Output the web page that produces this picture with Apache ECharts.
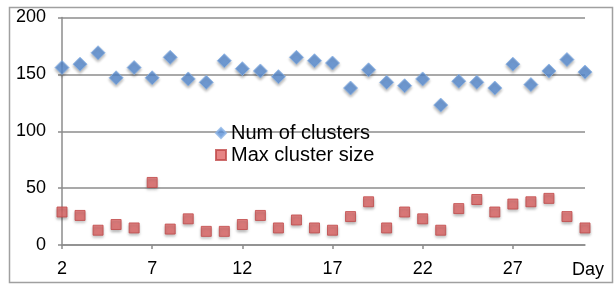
<!DOCTYPE html>
<html>
<head>
<meta charset="utf-8">
<script src="https://cdn.jsdelivr.net/npm/echarts@6/dist/echarts.min.js"></script>
<style>
  html, body { margin: 0; padding: 0; background: #fff; }
  #chart { width: 616px; height: 286px; }
</style>
</head>
<body>
<div id="chart"></div>
<script>
// days 2..31
const days = []
for (let d = 2; d <= 31; d++) days.push(String(d))

const numClusters = [156, 159, 169, 147, 156, 147, 165, 146, 143, 162,
  155, 153, 148, 165, 162, 160, 138, 154, 143, 140,
  146, 123, 144, 143, 138, 159, 141, 153, 163, 152]

const maxClusterSize = [29, 26, 13, 18, 15, 55, 14, 23, 12, 12,
  18, 26, 15, 22, 15, 13, 25, 38, 15, 29,
  23, 13, 32, 40, 29, 36, 38, 41, 25, 15]

const chart = echarts.init(document.getElementById('chart'))
const font = 'Liberation Sans, Arial, sans-serif'
const gray = '#8c8c8c'

chart.setOption({
  animation: false,
  textStyle: { fontFamily: font },
  graphic: [
    {
      type: 'rect',
      shape: { x: 9.5, y: 7.5, width: 603, height: 275 },
      style: { fill: 'none', stroke: '#a0a0a0', lineWidth: 1.5 },
      z: -1
    }
  ],
  grid: { left: 62, right: 31, top: 17.5, bottom: 41 },
  legend: {
    orient: 'vertical',
    left: 210,
    top: 118,
    itemGap: 2,
    itemWidth: 10,
    itemHeight: 10,
    textStyle: { fontSize: 20, color: '#000', fontFamily: font },
    data: [
      { name: 'Num of clusters', icon: 'diamond' },
      { name: 'Max cluster size', icon: 'rect' }
    ]
  },
  xAxis: {
    type: 'category',
    data: days,
    boundaryGap: false,
    name: 'Day',
    nameLocation: 'end',
    nameGap: 3,
    nameTextStyle: {
      fontSize: 18, color: '#000', align: 'center',
      verticalAlign: 'top', padding: [16, 0, 0, 0]
    },
    axisLine: { lineStyle: { color: gray, width: 1.5 } },
    axisTick: { interval: 4, length: 4, lineStyle: { color: gray, width: 1.5 } },
    axisLabel: { interval: 4, fontSize: 18, color: '#000', margin: 15 },
    splitLine: { show: false }
  },
  yAxis: {
    type: 'value',
    min: 0,
    max: 200,
    interval: 50,
    axisLine: { show: true, lineStyle: { color: gray, width: 1.5 } },
    axisTick: { show: true, length: 4, lineStyle: { color: gray, width: 1.5 } },
    axisLabel: { fontSize: 18, color: '#000', margin: 16 },
    splitLine: { lineStyle: { color: gray, width: 1.5 } }
  },
  series: [
    {
      name: 'Num of clusters',
      type: 'scatter',
      symbol: 'diamond',
      symbolSize: 14,
      data: numClusters,
      itemStyle: {
        color: '#5a8fd4',
        borderColor: '#8cb4e6',
        borderWidth: 1,
        shadowBlur: 3,
        shadowOffsetY: 2,
        shadowColor: 'rgba(0,0,0,0.35)'
      }
    },
    {
      name: 'Max cluster size',
      type: 'scatter',
      symbol: 'rect',
      symbolSize: 10,
      data: maxClusterSize,
      itemStyle: {
        color: '#e06565',
        borderColor: '#c04848',
        borderWidth: 1,
        shadowBlur: 3,
        shadowOffsetY: 2,
        shadowColor: 'rgba(0,0,0,0.35)'
      }
    }
  ]
})
</script>
</body>
</html>
